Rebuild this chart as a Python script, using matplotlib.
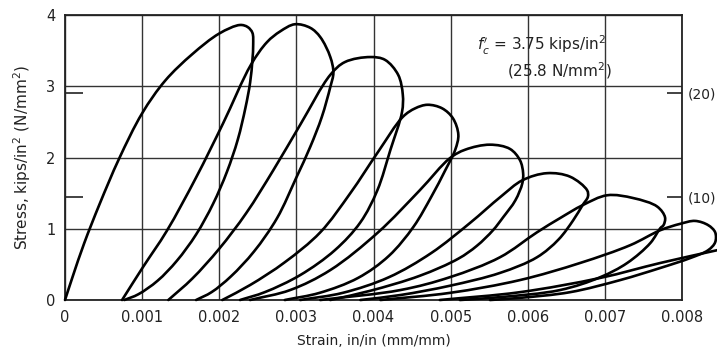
import numpy as np
import matplotlib
matplotlib.use('Agg')
import matplotlib.pyplot as plt
from matplotlib.path import Path
from matplotlib.patches import PathPatch

# digitised loops: strain in units of 0.001 in/in, stress in kips/in^2
strain_l1 = [0, 0.10, 0.25, 0.45, 0.70, 1.00, 1.30, 1.65, 2.00, 2.27, 2.37, 2.43, 2.44, 2.43,
             2.40, 2.34, 2.24, 2.10, 1.92, 1.70, 1.45, 1.20, 0.95, 0.77]
stress_l1 = [0, 0.33, 0.80, 1.35, 1.98, 2.62, 3.08, 3.45, 3.74, 3.86, 3.83, 3.75, 3.58, 3.37,
             3.05, 2.70, 2.25, 1.80, 1.35, 0.92, 0.55, 0.27, 0.08, 0]

strain_l2 = [0.74, 1.01, 1.32, 1.70, 2.05, 2.41, 2.62, 2.79, 2.98, 3.18, 3.31, 3.44, 3.48, 3.44,
             3.33, 3.18, 3.00, 2.75, 2.45, 2.15, 1.90, 1.70]
stress_l2 = [0, 0.46, 0.97, 1.72, 2.48, 3.30, 3.62, 3.77, 3.87, 3.82, 3.69, 3.41, 3.19, 2.99,
             2.57, 2.15, 1.72, 1.15, 0.68, 0.33, 0.11, 0]

strain_l3 = [1.34, 1.65, 2.00, 2.35, 2.70, 3.05, 3.44, 3.63, 3.96, 4.15, 4.32, 4.38, 4.37, 4.22,
             4.05, 3.83, 3.50, 3.05, 2.59, 2.27]
stress_l3 = [0, 0.30, 0.72, 1.22, 1.82, 2.46, 3.16, 3.34, 3.41, 3.37, 3.16, 2.88, 2.64, 2.11,
             1.54, 1.09, 0.70, 0.35, 0.11, 0]

strain_l4 = [2.04, 2.40, 2.85, 3.31, 3.70, 4.06, 4.38, 4.54, 4.70, 4.89, 5.03, 5.10, 5.06, 4.93,
             4.75, 4.52, 4.20, 3.80, 3.30, 2.85]
stress_l4 = [0, 0.21, 0.53, 0.95, 1.50, 2.08, 2.57, 2.69, 2.74, 2.69, 2.55, 2.32, 2.11, 1.82,
             1.45, 1.03, 0.62, 0.31, 0.10, 0]

strain_l5 = [2.40, 2.92, 3.44, 4.06, 4.60, 4.99, 5.19, 5.51, 5.77, 5.90, 5.94, 5.93, 5.84, 5.68,
             5.55, 5.34, 5.10, 4.60, 3.96, 3.44]
stress_l5 = [0, 0.14, 0.42, 0.95, 1.54, 1.99, 2.11, 2.18, 2.12, 1.96, 1.78, 1.64, 1.40, 1.16,
             0.98, 0.76, 0.58, 0.34, 0.13, 0]

strain_l6 = [3.05, 3.60, 4.20, 4.75, 5.25, 5.65, 5.93, 6.25, 6.55, 6.77, 6.78, 6.71, 6.59, 6.40,
             6.12, 5.64, 4.99, 4.35, 3.83]
stress_l6 = [0, 0.10, 0.32, 0.66, 1.08, 1.45, 1.68, 1.78, 1.73, 1.54, 1.45, 1.33, 1.12, 0.85,
             0.60, 0.38, 0.20, 0.07, 0]

strain_l7 = [3.31, 4.35, 4.99, 5.64, 6.12, 6.42, 6.71, 7.03, 7.37, 7.68, 7.78, 7.76, 7.72, 7.59,
             7.29, 6.94, 6.42, 5.64, 5.12]
stress_l7 = [0, 0.14, 0.32, 0.60, 0.95, 1.15, 1.33, 1.47, 1.43, 1.31, 1.16, 1.05, 1.01, 0.80,
             0.52, 0.32, 0.14, 0.04, 0]

strain_l8 = [4.09, 4.99, 5.90, 6.68, 7.33, 7.72, 7.98, 8.17, 8.34, 8.43, 8.43, 8.34, 8.11, 7.72,
             7.20, 6.55, 5.90, 5.51]
stress_l8 = [0, 0.10, 0.28, 0.52, 0.77, 0.98, 1.07, 1.11, 1.05, 0.95, 0.81, 0.70, 0.59, 0.45,
             0.28, 0.11, 0.03, 0]

strain_l9 = [4.86, 5.90, 6.94, 7.72, 8.46]
stress_l9 = [0, 0.11, 0.31, 0.52, 0.70]

loops = [(strain_l1, stress_l1), (strain_l2, stress_l2), (strain_l3, stress_l3),
         (strain_l4, stress_l4), (strain_l5, stress_l5), (strain_l6, stress_l6),
         (strain_l7, stress_l7), (strain_l8, stress_l8), (strain_l9, stress_l9)]

x_ticks = [0, 0.001, 0.002, 0.003, 0.004, 0.005, 0.006, 0.007, 0.008]
x_labels = ['0', '0.001', '0.002', '0.003', '0.004', '0.005', '0.006', '0.007', '0.008']
y_ticks = [0, 1, 2, 3, 4]
si_ticks = [10, 20]
KSI_TO_MPA = 6.895


def smooth_path(xs, ys, sx, sy):
    # centripetal Catmull-Rom through the points, worked out in a roughly
    # square space (sx, sy) and handed to matplotlib as cubic Bezier segments
    p = np.column_stack([np.asarray(xs) * sx, np.asarray(ys) * sy])
    ext = np.vstack([p[0], p, p[-1]])
    verts = [p[0]]
    codes = [Path.MOVETO]
    for i in range(1, len(ext) - 2):
        p0, p1, p2, p3 = ext[i - 1], ext[i], ext[i + 1], ext[i + 2]
        d1 = np.linalg.norm(p1 - p0) ** 0.5
        d2 = np.linalg.norm(p2 - p1) ** 0.5
        d3 = np.linalg.norm(p3 - p2) ** 0.5
        if d1 < 1e-9:
            b1 = p1 + (p2 - p1) / 3
        else:
            b1 = (d1 ** 2 * p2 - d2 ** 2 * p0 + (2 * d1 ** 2 + 3 * d1 * d2 + d2 ** 2) * p1) / (3 * d1 * (d1 + d2))
        if d3 < 1e-9:
            b2 = p2 - (p2 - p1) / 3
        else:
            b2 = (d3 ** 2 * p1 - d2 ** 2 * p3 + (2 * d3 ** 2 + 3 * d3 * d2 + d2 ** 2) * p2) / (3 * d3 * (d3 + d2))
        verts += [b1, b2, p2]
        codes += [Path.CURVE4] * 3
    verts = np.array(verts) / [sx, sy]
    return Path(verts, codes)


fig = plt.figure(figsize=(7.17, 3.6), dpi=100)
ax = fig.add_axes([65 / 717, 60 / 360, 617 / 717, 285 / 360])

for eps, sig in loops:
    path = smooth_path(np.array(eps) * 1e-3, sig, 77125.0, 71.25)
    ax.add_patch(PathPatch(path, fill=False, edgecolor='black', lw=1.9, clip_on=False,
                           capstyle='round', joinstyle='round', zorder=3))

ax.set_xlim(0, 0.008)
ax.set_ylim(0, 4)
ax.set_xticks(x_ticks, labels=x_labels)
ax.set_yticks(y_ticks)
ax.grid(True, color='#333333', lw=1.0)
ax.tick_params(length=0, labelsize=10.5, colors='#222222', pad=7)
for sp in ax.spines.values():
    sp.set_linewidth(1.3)
    sp.set_color('#222222')

# N/mm^2 marks on both sides
sec_r = ax.secondary_yaxis('right', functions=(lambda s: s * KSI_TO_MPA, lambda n: n / KSI_TO_MPA))
sec_r.set_yticks(si_ticks, labels=['(%d)' % v for v in si_ticks])
sec_r.tick_params(direction='in', length=11, width=1.2, pad=4, labelsize=10, colors='#222222')
sec_l = ax.secondary_yaxis('left', functions=(lambda s: s * KSI_TO_MPA, lambda n: n / KSI_TO_MPA))
sec_l.set_yticks(si_ticks, labels=['', ''])
sec_l.tick_params(direction='in', length=13, width=1.2, colors='#222222')
for s in (sec_r, sec_l):
    for sp in s.spines.values():
        sp.set_visible(False)

ax.set_xlabel('Strain, in/in (mm/mm)', fontsize=10, color='#222222', labelpad=7)
ax.set_ylabel('Stress, kips/in$^2$ (N/mm$^2$)', fontsize=11, color='#222222', labelpad=9)

ax.text(0.668, 0.895, "$f_c'$ = 3.75 kips/in$^2$", transform=ax.transAxes, fontsize=11,
        color='#222222', va='center')
ax.text(0.716, 0.805, '(25.8 N/mm$^2$)', transform=ax.transAxes, fontsize=11,
        color='#222222', va='center')

fig.savefig('out.png', dpi=100)
